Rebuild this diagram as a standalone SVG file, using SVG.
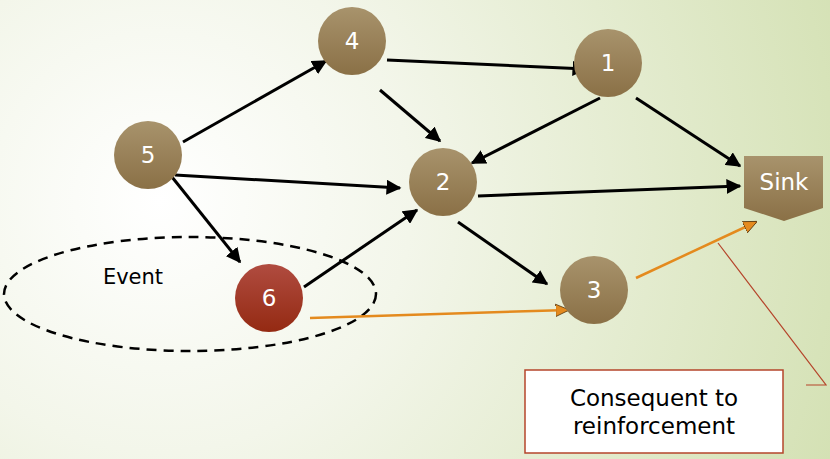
<svg xmlns="http://www.w3.org/2000/svg" width="830" height="459" viewBox="0 0 830 459">
<defs>
<radialGradient id="bg" cx="160" cy="200" r="720" gradientUnits="userSpaceOnUse">
<stop offset="0" stop-color="#ffffff"/>
<stop offset="0.35" stop-color="#f3f6ea"/>
<stop offset="1" stop-color="#d4e1b4"/>
</radialGradient>
<linearGradient id="brown" x1="0" y1="0" x2="0" y2="1">
<stop offset="0" stop-color="#a8936c"/>
<stop offset="1" stop-color="#8a7046"/>
</linearGradient>
<linearGradient id="red" x1="0" y1="0" x2="0" y2="1">
<stop offset="0" stop-color="#b04c40"/>
<stop offset="1" stop-color="#942a12"/>
</linearGradient>
<marker id="ab" viewBox="0 0 10 10" refX="9" refY="5" markerWidth="5" markerHeight="5" orient="auto" markerUnits="strokeWidth">
<path d="M0,0 L10,5 L0,10 Z" fill="#000"/>
</marker>
<marker id="ao" viewBox="0 0 10 10" refX="9" refY="5" markerWidth="5.5" markerHeight="5.5" orient="auto" markerUnits="strokeWidth">
<path d="M0,0.5 L10,5 L0,9.5 Z" fill="#e48a1e" stroke="#5a3a10" stroke-width="0.6"/>
</marker>
</defs>
<style>
.n{font-family:"DejaVu Sans","Liberation Sans",sans-serif;font-size:23px;fill:#fff;text-anchor:middle;}
.e{stroke:#000;stroke-width:3;fill:none;marker-end:url(#ab);}
.o{stroke:#e48a1e;stroke-width:2.5;fill:none;marker-end:url(#ao);}
.lbl{font-family:"DejaVu Sans","Liberation Sans",sans-serif;fill:#000;}
</style>
<rect x="0" y="0" width="830" height="459" fill="url(#bg)"/>

<g id="event">
<ellipse cx="190" cy="294" rx="186" ry="57" fill="none" stroke="#000" stroke-width="2.5" stroke-dasharray="10,7"/>
<text class="lbl" x="133" y="284" font-size="21" text-anchor="middle">Event</text>
</g>

<g id="connectors">
<line class="e" x1="183" y1="142" x2="326" y2="61"/>
<line class="e" x1="387" y1="60" x2="586" y2="69"/>
<line class="e" x1="380" y1="90" x2="440" y2="141"/>
<line class="e" x1="600" y1="98" x2="472" y2="163"/>
<line class="e" x1="636" y1="98" x2="740" y2="166"/>
<line class="e" x1="175" y1="175" x2="400" y2="188"/>
<line class="e" x1="478" y1="196" x2="740" y2="186"/>
<line class="e" x1="172" y1="177" x2="240" y2="262"/>
<line class="e" x1="304" y1="287" x2="417" y2="210"/>
<line class="e" x1="458" y1="222" x2="547" y2="284"/>
<line class="o" x1="310" y1="318" x2="568" y2="310"/>
<line class="o" x1="636" y1="278" x2="756" y2="222"/>
<polyline points="718,243 826,385 806,385" fill="none" stroke="#b5452b" stroke-width="1.2"/>
</g>

<g id="n4"><circle cx="352" cy="41" r="34" fill="url(#brown)"/><text class="n" x="352" y="49">4</text></g>
<g id="n1"><circle cx="608" cy="63" r="34" fill="url(#brown)"/><text class="n" x="608" y="71">1</text></g>
<g id="n5"><circle cx="148" cy="155" r="34" fill="url(#brown)"/><text class="n" x="148" y="163">5</text></g>
<g id="n2"><circle cx="443" cy="182" r="34" fill="url(#brown)"/><text class="n" x="443" y="190">2</text></g>
<g id="n6"><circle cx="269" cy="298" r="34" fill="url(#red)"/><text class="n" x="269" y="306">6</text></g>
<g id="n3"><circle cx="594" cy="290" r="34" fill="url(#brown)"/><text class="n" x="594" y="298">3</text></g>
<g id="sink"><path d="M744,156 L823,156 L823,208 L784,221 L744,208 Z" fill="url(#brown)"/><text class="n" x="784" y="190" font-size="21">Sink</text></g>

<g id="callout">
<rect x="525" y="370" width="258" height="83" fill="#fff" stroke="#b5452b" stroke-width="1.5"/>
<text class="lbl" x="654" y="406" font-size="23" text-anchor="middle">Consequent to</text>
<text class="lbl" x="654" y="434" font-size="23" text-anchor="middle">reinforcement</text>
</g>
</svg>
